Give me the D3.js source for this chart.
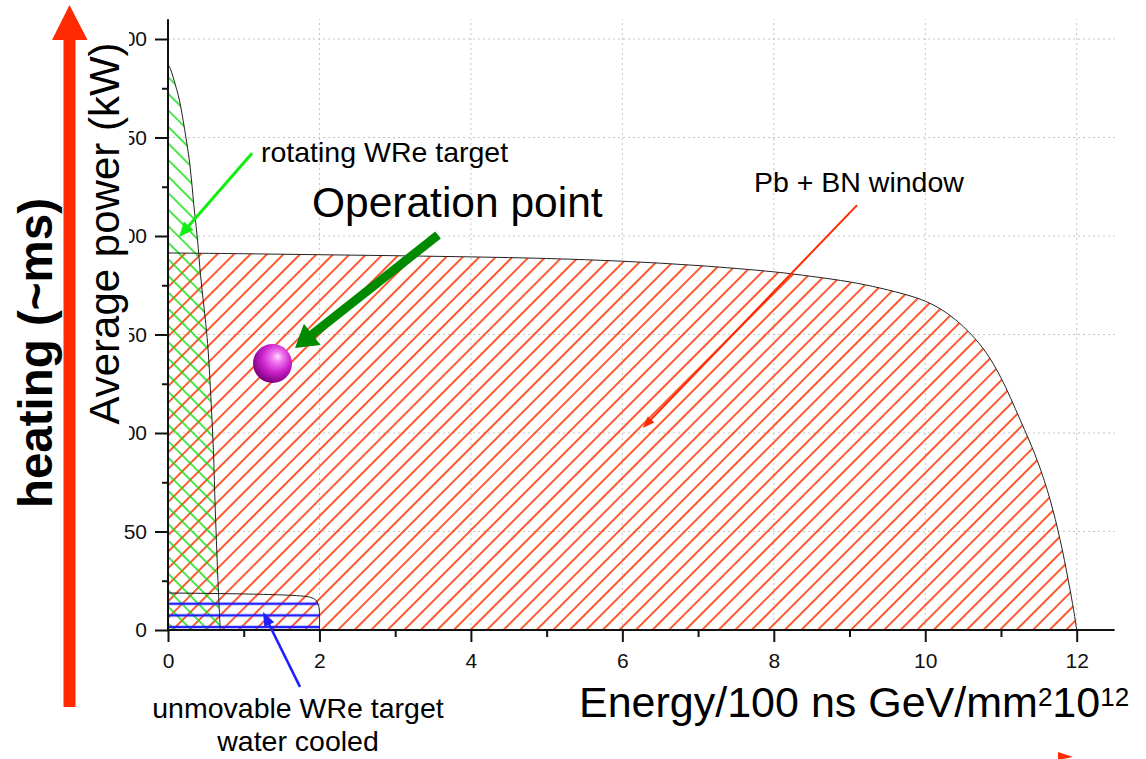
<!DOCTYPE html>
<html>
<head>
<meta charset="utf-8">
<script src="https://cdn.jsdelivr.net/npm/d3@7"></script>
<style>
  html, body { margin: 0; padding: 0; background: #fff; }
  svg { display: block; }
  text { font-family: "Liberation Sans", Arial, sans-serif; }
</style>
</head>
<body>
<svg id="chart" width="1146" height="759"></svg>
<script>
// ---------- data ----------
const xTicks = [0, 2, 4, 6, 8, 10, 12];
const xMinorTicks = [1, 3, 5, 7, 9, 11];
const yTicks = [0, 50, 100, 150, 200, 250, 300];
const yMinorTicks = [25, 75, 125, 175, 225, 275];

// Pb + BN window (red hatched region): [energy, power]
const pbWindow = [
  [0, 191.4], [1, 191], [2, 190.5], [3, 190], [4, 189.4], [5, 188.6], [6, 187.2],
  [7, 185], [8, 181.8], [8.5, 179.5], [9, 176.7], [9.4, 173.6], [9.8, 169.6],
  [10, 166.9], [10.2, 163], [10.4, 157.5], [10.6, 150.3], [10.8, 141], [11, 128],
  [11.25, 107], [11.48, 86], [11.65, 66], [11.78, 46], [11.89, 25], [11.96, 10], [12, 0]
];
// rotating WRe target (green hatched region)
const wreRotating = [
  [0, 287], [0.03, 285], [0.08, 279], [0.15, 269], [0.22, 254], [0.29, 236],
  [0.34, 216], [0.39, 198], [0.43, 180], [0.5, 155], [0.53, 142], [0.57, 115],
  [0.6, 91], [0.62, 66], [0.66, 25], [0.69, 0]
];
// unmovable WRe target, water cooled (blue hatched region)
const wreWater = [
  [0, 18.8], [0.5, 18.6], [1, 18.3], [1.5, 17.8], [1.75, 17.3], [1.88, 16.6],
  [1.95, 15.3], [1.985, 13], [2, 9], [2, 0]
];
const operationPoint = [1.38, 135.3];

// annotation arrows: [from, to] in data units
const arrowOperation = [[3.566, 200.5], [1.677, 143.1]];
const arrowRotating = [[1.11, 242], [0.145, 199.5]];
const arrowPb = [[9.1, 215.7], [6.27, 102.5]];
const arrowWater = [[1.743, -28.9], [1.255, 9.1]];

// ---------- setup ----------
const svg = d3.select("#chart");
const x = d3.scaleLinear().domain([0, 12]).range([168, 1076.7]);
const y = d3.scaleLinear().domain([0, 300]).range([630, 39]);
const xEnd = 12.5, yEnd = 310;

const defs = svg.append("defs");
function hatch(id, angle, color, width, spacing) {
  const p = defs.append("pattern").attr("id", id)
    .attr("patternUnits", "userSpaceOnUse")
    .attr("width", spacing).attr("height", 20)
    .attr("patternTransform", `rotate(${angle})`);
  p.append("line").attr("x1", spacing / 2).attr("x2", spacing / 2)
    .attr("y1", -1).attr("y2", 21)
    .attr("stroke", color).attr("stroke-width", width);
}
hatch("hatchRed", 45, "#ff3300", 1.6, 11.7);
hatch("hatchGreen", -45, "#11dd11", 1.5, 11.7);
const blueSp = 11.65;
const pb = defs.append("pattern").attr("id", "hatchBlue")
  .attr("patternUnits", "userSpaceOnUse")
  .attr("x", 0).attr("y", y(1.5) - blueSp / 2)
  .attr("width", 40).attr("height", blueSp);
pb.append("line").attr("x1", -1).attr("x2", 41)
  .attr("y1", blueSp / 2).attr("y2", blueSp / 2)
  .attr("stroke", "#1f1fff").attr("stroke-width", 2.4);

const grad = defs.append("radialGradient").attr("id", "sphere")
  .attr("cx", "58%").attr("cy", "38%").attr("r", "62%")
  .attr("fx", "64%").attr("fy", "32%");
grad.append("stop").attr("offset", "0%").attr("stop-color", "#ffe0ff");
grad.append("stop").attr("offset", "22%").attr("stop-color", "#f27cf2");
grad.append("stop").attr("offset", "60%").attr("stop-color", "#cc22cc");
grad.append("stop").attr("offset", "100%").attr("stop-color", "#800080");

// ---------- grid ----------
const grid = svg.append("g").attr("stroke", "#c4c4c4").attr("stroke-width", 1)
  .attr("stroke-dasharray", "2,3");
grid.selectAll(".gx").data(xTicks.filter(d => d > 0)).join("line")
  .attr("x1", d => x(d)).attr("x2", d => x(d))
  .attr("y1", y(0)).attr("y2", y(yEnd));
grid.selectAll(".gy").data(yTicks.filter(d => d > 0)).join("line")
  .attr("x1", x(0)).attr("x2", x(xEnd))
  .attr("y1", d => y(d)).attr("y2", d => y(d));

// ---------- regions ----------
const area = d3.area().x(d => x(d[0])).y0(y(0)).y1(d => y(d[1]))
  .curve(d3.curveCatmullRom.alpha(0.5));
const line = d3.line().x(d => x(d[0])).y(d => y(d[1]))
  .curve(d3.curveCatmullRom.alpha(0.5));

const regions = [
  { data: pbWindow, fill: "url(#hatchRed)" },
  { data: wreRotating, fill: "url(#hatchGreen)" },
  { data: wreWater, fill: "url(#hatchBlue)" }
];
svg.append("g").selectAll("path").data(regions).join("path")
  .attr("d", d => area(d.data)).attr("fill", d => d.fill);
svg.append("g").selectAll("path").data(regions).join("path")
  .attr("d", d => line(d.data)).attr("fill", "none")
  .attr("stroke", "#222").attr("stroke-width", 1);

// ---------- axes ----------
const fmt = d3.format("d");
const gx = svg.append("g").attr("transform", `translate(0,${y(0)})`);
gx.call(d3.axisBottom(x).tickValues(xTicks).tickSize(12).tickSizeOuter(0)
  .tickPadding(11).tickFormat(fmt));
gx.append("g").call(d3.axisBottom(x).tickValues(xMinorTicks).tickSize(7)
  .tickSizeOuter(0).tickFormat(""));
const gy = svg.append("g").attr("transform", `translate(${x(0)},0)`);
gy.call(d3.axisLeft(y).tickValues(yTicks).tickSize(13).tickSizeOuter(0)
  .tickPadding(8).tickFormat(fmt));
gy.append("g").call(d3.axisLeft(y).tickValues(yMinorTicks).tickSize(6)
  .tickSizeOuter(0).tickFormat(""));
svg.selectAll(".domain").remove();
svg.selectAll(".tick line").attr("stroke", "#111").attr("stroke-width", 2);
svg.selectAll(".tick text").attr("font-size", 21).attr("fill", "#111")
  .attr("font-family", "'Liberation Sans', Arial, sans-serif");
svg.append("line").attr("x1", x(0)).attr("x2", x(xEnd)).attr("y1", y(0)).attr("y2", y(0))
  .attr("stroke", "#111").attr("stroke-width", 2);
svg.append("line").attr("x1", x(0)).attr("x2", x(0)).attr("y1", y(0) + 1).attr("y2", y(yEnd))
  .attr("stroke", "#111").attr("stroke-width", 2);

// ---------- y title (with white box covering labels) ----------
svg.append("rect").attr("x", 80).attr("y", 22).attr("width", 49).attr("height", 425)
  .attr("fill", "#fff");
svg.append("text").attr("transform", "translate(119,233.5) rotate(-90)")
  .attr("text-anchor", "middle").attr("font-size", 42).attr("fill", "#000")
  .text("Average power (kW)");

// heating label + big arrow
svg.append("text").attr("transform", "translate(52,353) rotate(-90)")
  .attr("text-anchor", "middle").attr("font-size", 47.5).attr("font-weight", "bold")
  .attr("fill", "#000").text("heating (~ms)");
svg.append("rect").attr("x", 63.5).attr("y", 38).attr("width", 12).attr("height", 669)
  .attr("fill", "#ff2a00");
svg.append("polygon").attr("points", "52,40 87.5,40 69.5,5").attr("fill", "#ff2a00");

// ---------- x title ----------
const xt = svg.append("text").attr("x", 579).attr("y", 717)
  .attr("font-size", 43).attr("fill", "#000");
xt.append("tspan").text("Energy/100 ns GeV/mm");
xt.append("tspan").attr("font-size", 26).attr("dy", -11).text("2");
xt.append("tspan").attr("font-size", 43).attr("dy", 11).text("10");
xt.append("tspan").attr("font-size", 26).attr("dy", -11).text("12");

// ---------- arrows ----------
function arrow(pts, color, w, L, hw) {
  const x0 = x(pts[0][0]), y0 = y(pts[0][1]);
  const x1 = x(pts[1][0]), y1 = y(pts[1][1]);
  const dx = x1 - x0, dy = y1 - y0, len = Math.hypot(dx, dy);
  const ux = dx / len, uy = dy / len, px = -uy, py = ux;
  const bx = x1 - ux * L, by = y1 - uy * L;
  svg.append("line").attr("x1", x0).attr("y1", y0)
    .attr("x2", bx + ux * 1).attr("y2", by + uy * 1)
    .attr("stroke", color).attr("stroke-width", w);
  svg.append("polygon").attr("points",
    [[x1, y1], [bx + px * hw / 2, by + py * hw / 2], [bx - px * hw / 2, by - py * hw / 2]]
      .map(p => p.join(",")).join(" "))
    .attr("fill", color);
}
arrow(arrowOperation, "#008a00", 9, 22, 27);
arrow(arrowRotating, "#11ee11", 3, 15, 13);
arrow(arrowPb, "#ff2a00", 2, 12, 9);
arrow(arrowWater, "#1f1fff", 2.6, 14, 11);

// ---------- operation point ----------
svg.append("circle").attr("cx", x(operationPoint[0])).attr("cy", y(operationPoint[1]))
  .attr("r", 19.5).attr("fill", "url(#sphere)");

// ---------- annotation texts ----------
svg.append("text").attr("x", 312).attr("y", 217).attr("font-size", 42.5)
  .text("Operation point");
svg.append("text").attr("x", 261).attr("y", 162).attr("font-size", 28.5)
  .text("rotating WRe target");
svg.append("text").attr("x", 754).attr("y", 191.5).attr("font-size", 28.5)
  .text("Pb + BN window");
svg.append("text").attr("x", 298).attr("y", 718).attr("font-size", 28.5)
  .attr("text-anchor", "middle").text("unmovable WRe target");
svg.append("text").attr("x", 298).attr("y", 751).attr("font-size", 28.5)
  .attr("text-anchor", "middle").text("water cooled");

// small red marker at bottom right
svg.append("polygon").attr("points", "1058,752 1073,757 1058,760").attr("fill", "#ff2a00");
</script>
</body>
</html>
